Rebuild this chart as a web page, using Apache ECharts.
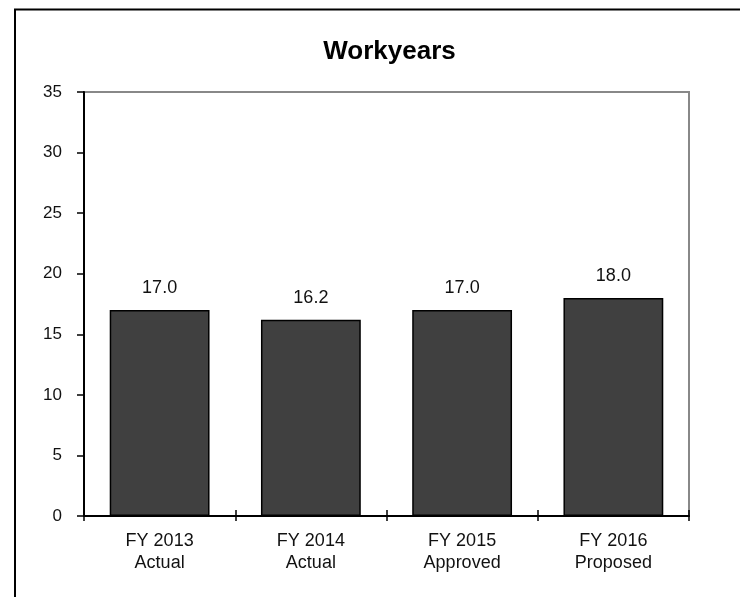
<!DOCTYPE html>
<html>
<head>
<meta charset="utf-8">
<script src="https://cdn.jsdelivr.net/npm/echarts@6/dist/echarts.min.js"></script>
<style>
  html, body { margin: 0; padding: 0; background: #fff; }
  #chart { width: 740px; height: 597px; }
</style>
</head>
<body>
<div id="chart"></div>
<script>
// Fiscal years and their workyear totals
var categories = ['FY 2013\nActual', 'FY 2014\nActual', 'FY 2015\nApproved', 'FY 2016\nProposed'];
var workyears = [17.0, 16.2, 17.0, 18.0];
var yTicks = [0, 5, 10, 15, 20, 25, 30, 35];

var FONT = '"Liberation Sans", Arial, sans-serif';

var chart = echarts.init(document.getElementById('chart'), null, { renderer: 'canvas' });

chart.setOption({
  animation: false,
  backgroundColor: '#fff',
  graphic: [{
    // outer frame of the chart area
    type: 'rect',
    shape: { x: 15, y: 9.5, width: 900, height: 800 },
    style: { fill: 'none', stroke: '#000', lineWidth: 2 },
    silent: true
  }, {
    type: 'text',
    x: 389.5,
    y: 52,
    style: {
      text: 'Workyears',
      align: 'center',
      verticalAlign: 'middle',
      fontFamily: FONT,
      fontSize: 26,
      fontWeight: 'bold',
      fill: '#000'
    },
    silent: true
  }],
  grid: {
    left: 84, right: 51, top: 92, bottom: 81,
    show: true, borderColor: '#888', borderWidth: 2, backgroundColor: 'transparent'
  },
  xAxis: [{
    type: 'category',
    data: categories,
    axisLine: { lineStyle: { color: '#000', width: 2 } },
    axisTick: { show: true, length: 5, lineStyle: { color: '#000', width: 1.5 } },
    axisLabel: {
      margin: 14, fontFamily: FONT, fontSize: 18, lineHeight: 22, color: '#111'
    }
  }, {
    // inner half of the crossing tick marks on the category axis
    type: 'category',
    position: 'bottom',
    data: categories,
    axisLine: { show: false },
    axisTick: { show: true, inside: true, length: 6, lineStyle: { color: '#000', width: 1.5 } },
    axisLabel: { show: false }
  }],
  yAxis: {
    type: 'value',
    min: yTicks[0],
    max: yTicks[yTicks.length - 1],
    interval: 5,
    splitLine: { show: false },
    axisLine: { show: true, lineStyle: { color: '#000', width: 2 } },
    axisTick: { show: true, length: 7, lineStyle: { color: '#000', width: 1.5 } },
    axisLabel: { margin: 22, fontFamily: FONT, fontSize: 17, color: '#111' }
  },
  series: [{
    type: 'bar',
    data: workyears,
    barCategoryGap: '34%',
    itemStyle: { color: '#404040', borderColor: '#000', borderWidth: 1.5 },
    label: {
      show: true,
      position: 'top',
      distance: 13,
      fontFamily: FONT,
      fontSize: 18,
      color: '#111',
      formatter: function (p) { return p.value.toFixed(1); }
    }
  }]
});
</script>
</body>
</html>
